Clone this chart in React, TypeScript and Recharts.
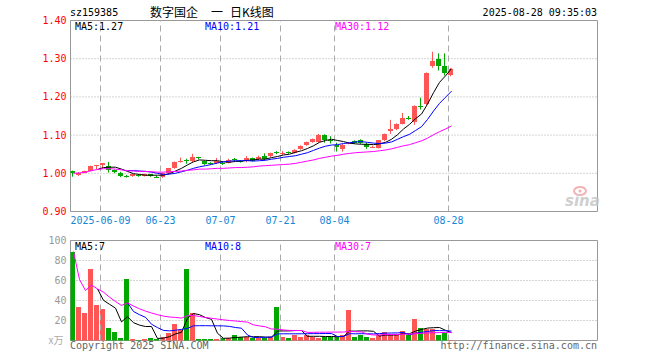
import React from "react";
import {
  Bar,
  CartesianGrid,
  ComposedChart,
  Line,
  ReferenceArea,
  ReferenceLine,
  XAxis,
  YAxis,
} from "recharts";

// daily candles, 2025-05-30 .. 2025-08-28 (64 sessions)
const OPEN = [
  1.006, 0.995, 1.002, 1.007, 1.019, 1.023, 1.02, 1.008, 1.002, 0.994,
  0.994, 0.996, 0.994, 0.997, 0.991, 0.99, 1.0, 1.014, 1.03, 1.034,
  1.031, 1.042, 1.031, 1.027, 1.026, 1.027, 1.028, 1.037, 1.032, 1.031,
  1.04, 1.037, 1.044, 1.044, 1.055, 1.05, 1.055, 1.053, 1.064, 1.074,
  1.082, 1.082, 1.101, 1.087, 1.075, 1.064, 1.078, 1.085, 1.088, 1.078,
  1.068, 1.066, 1.086, 1.11, 1.116, 1.13, 1.146, 1.133, 1.177, 1.181,
  1.281, 1.3, 1.282, 1.257,
];
const CLOSE = [
  1.0, 1.002, 1.006, 1.019, 1.021, 1.026, 1.008, 1.004, 0.994, 0.993,
  0.997, 0.995, 0.997, 0.994, 0.99, 1.001, 1.013, 1.03, 1.032, 1.032,
  1.042, 1.041, 1.024, 1.025, 1.032, 1.026, 1.036, 1.036, 1.031, 1.04,
  1.033, 1.043, 1.038, 1.052, 1.054, 1.054, 1.054, 1.061, 1.072, 1.082,
  1.089, 1.101, 1.088, 1.085, 1.068, 1.075, 1.08, 1.079, 1.079, 1.069,
  1.07, 1.086, 1.102, 1.116, 1.13, 1.146, 1.145, 1.177, 1.175, 1.262,
  1.294, 1.281, 1.262, 1.273,
];
const HIGH = [
  1.007, 1.003, 1.007, 1.02, 1.022, 1.027, 1.03, 1.01, 1.004, 0.996,
  0.999, 0.998, 0.999, 0.998, 0.993, 1.002, 1.014, 1.031, 1.041, 1.038,
  1.051, 1.043, 1.033, 1.029, 1.04, 1.029, 1.038, 1.04, 1.034, 1.045,
  1.041, 1.046, 1.052, 1.054, 1.058, 1.058, 1.057, 1.063, 1.073, 1.083,
  1.091, 1.103, 1.102, 1.097, 1.08, 1.077, 1.082, 1.086, 1.089, 1.08,
  1.072, 1.087, 1.104, 1.14, 1.131, 1.158, 1.15, 1.178, 1.198, 1.264,
  1.318, 1.314, 1.314, 1.276,
];
const LOW = [
  0.991, 0.993, 1.0, 1.005, 1.011, 1.013, 1.002, 1.0, 0.99, 0.989,
  0.991, 0.991, 0.992, 0.991, 0.988, 0.988, 0.998, 1.012, 1.028, 1.025,
  1.029, 1.036, 1.022, 1.022, 1.024, 1.022, 1.026, 1.032, 1.028, 1.029,
  1.031, 1.035, 1.035, 1.042, 1.05, 1.048, 1.051, 1.052, 1.062, 1.072,
  1.08, 1.08, 1.08, 1.078, 1.057, 1.057, 1.076, 1.077, 1.077, 1.064,
  1.067, 1.065, 1.084, 1.103, 1.113, 1.128, 1.14, 1.127, 1.167, 1.178,
  1.276, 1.269, 1.256, 1.254,
];
// volume, 万
const VOLUME = [
  89, 33, 28, 72, 36, 32, 13, 9, 3, 62,
  2, 1, 2, 3, 2, 4, 8, 16, 11, 72,
  28, 2, 2, 2, 2, 3, 3, 5, 4, 4,
  3, 3, 3, 4, 34, 4, 3, 5, 4, 5,
  4, 3, 4, 4, 4, 5, 30, 4, 5, 4,
  3, 6, 9, 5, 5, 10, 5, 22, 13, 12,
  12, 6, 8, 1,
];

const MA5 = [
  null, null, null, null, 1.01, 1.015, 1.016, 1.016, 1.011, 1.005,
  0.999, 0.997, 0.995, 0.995, 0.995, 0.995, 0.999, 1.006, 1.013, 1.022,
  1.03, 1.035, 1.034, 1.033, 1.033, 1.03, 1.029, 1.031, 1.032, 1.034,
  1.035, 1.037, 1.037, 1.041, 1.044, 1.048, 1.05, 1.055, 1.059, 1.065,
  1.072, 1.081, 1.086, 1.089, 1.086, 1.083, 1.079, 1.077, 1.076, 1.076,
  1.075, 1.077, 1.081, 1.089, 1.101, 1.116, 1.128, 1.143, 1.155, 1.181,
  1.211, 1.238, 1.255, 1.274,
];
const MA10 = [
  null, null, null, null, null, null, null, null, null, 1.007,
  1.007, 1.006, 1.005, 1.003, 1.0, 0.997, 0.998, 1.0, 1.004, 1.008,
  1.013, 1.017, 1.02, 1.023, 1.027, 1.03, 1.032, 1.033, 1.033, 1.033,
  1.032, 1.033, 1.034, 1.037, 1.039, 1.042, 1.044, 1.046, 1.05, 1.054,
  1.06, 1.066, 1.071, 1.074, 1.075, 1.078, 1.08, 1.082, 1.083, 1.081,
  1.079, 1.078, 1.079, 1.082, 1.089, 1.096, 1.102, 1.112, 1.122, 1.141,
  1.163, 1.183, 1.199, 1.215,
];
const MA30 = [
  1.0, 1.001, 1.003, 1.007, 1.01, 1.012, 1.012, 1.011, 1.009, 1.007,
  1.006, 1.005, 1.005, 1.004, 1.003, 1.003, 1.004, 1.005, 1.006, 1.008,
  1.009, 1.011, 1.011, 1.012, 1.013, 1.013, 1.014, 1.015, 1.015, 1.016,
  1.017, 1.019, 1.02, 1.021, 1.022, 1.023, 1.024, 1.026, 1.029, 1.032,
  1.035, 1.039, 1.042, 1.045, 1.047, 1.05, 1.052, 1.054, 1.055, 1.056,
  1.057, 1.059, 1.061, 1.064, 1.068, 1.072, 1.075, 1.08, 1.085, 1.092,
  1.101, 1.109, 1.116, 1.124,
];
const VMA5 = [
  null, null, null, null, 51.6, 40.2, 36.2, 32.4, 18.6, 23.8,
  17.8, 15.4, 14.0, 14.0, 2.0, 2.4, 3.8, 6.6, 8.2, 22.2,
  27.0, 25.8, 23.0, 21.2, 7.2, 2.2, 2.4, 3.0, 3.4, 3.8,
  3.8, 3.8, 3.4, 3.4, 9.4, 9.6, 9.6, 10.0, 10.0, 4.2,
  4.2, 4.2, 4.0, 4.0, 3.8, 4.0, 9.4, 9.4, 9.6, 9.6,
  9.2, 4.4, 5.4, 5.4, 5.6, 7.0, 6.8, 9.4, 11.0, 12.4,
  12.8, 13.0, 10.2, 7.8,
];
const VMA10 = [
  null, null, null, null, null, null, null, null, null, 37.7,
  29.0, 25.8, 23.2, 16.3, 12.9, 10.1, 9.6, 10.3, 11.1, 12.1,
  14.7, 14.8, 14.8, 14.7, 14.7, 14.6, 14.1, 13.0, 12.3, 5.5,
  3.0, 3.1, 3.2, 3.4, 6.6, 6.7, 6.7, 6.7, 6.7, 6.8,
  6.9, 6.9, 7.0, 7.0, 4.0, 4.1, 6.8, 6.7, 6.8, 6.7,
  6.6, 6.9, 7.4, 7.5, 7.6, 8.1, 5.6, 7.4, 8.2, 9.0,
  9.9, 9.9, 9.8, 9.4,
];
const VMA30 = [
  89, 61, 50, 55.5, 51.6, 48.3, 43.3, 39, 35, 37.7,
  34.5, 31.7, 29.4, 27.5, 25.8, 24.4, 23.5, 23.1, 22.4, 24.9,
  25.0, 24.0, 23.0, 22.2, 21.4, 20.7, 20.0, 19.5, 18.9, 18.4,
  15.6, 14.6, 13.7, 11.5, 11.4, 10.5, 10.1, 10.0, 10.0, 8.1,
  8.2, 8.3, 8.3, 8.4, 8.4, 8.5, 9.2, 8.8, 8.6, 6.3,
  5.5, 5.6, 5.9, 6.0, 6.1, 6.3, 6.4, 6.9, 7.2, 7.5,
  7.8, 7.9, 8.1, 8.0,
];

const DATE_TICKS = [5, 15, 25, 35, 44, 63];
const DATE_LABELS = ["2025-06-09", "06-23", "07-07", "07-21", "08-04", "08-28"];
const PRICE_TICKS = [0.9, 1.0, 1.1, 1.2, 1.3, 1.4];
const VOL_TICKS = [0, 20, 40, 60, 80, 100];

const X_MAX = 527 / 6; // 6px per session
const RED = "#ff5555";
const GREEN = "#00a800";
const MONO = '"DejaVu Sans Mono", "Liberation Mono", monospace';
const CJK = '"Noto Sans CJK SC", sans-serif';

const rows = OPEN.map((open, i) => ({
  x: i + 0.5,
  open,
  close: CLOSE[i],
  high: HIGH[i],
  low: LOW[i],
  vol: VOLUME[i],
  ma5: MA5[i],
  ma10: MA10[i],
  ma30: MA30[i],
  vma5: VMA5[i],
  vma10: VMA10[i],
  vma30: VMA30[i],
}));

function Candle(props: any) {
  const { x, y, width, height, payload } = props;
  if (!payload || height == null) return null;
  const { open, close, high, low } = payload;
  const color = close >= open ? RED : GREEN;
  const left = Math.round(x + width / 2 - 3.5);
  const k = high > low ? height / (high - low) : 0;
  const py = (v: number) => y + (high - v) * k;
  const top = Math.round(py(Math.max(open, close)));
  const bot = Math.round(py(Math.min(open, close)));
  return (
    <g>
      <line x1={left + 2.5} x2={left + 2.5} y1={y} y2={y + height} stroke={color} />
      <rect x={left} y={top} width={5} height={Math.max(1, bot - top)} fill={color} />
    </g>
  );
}

function VolBar(props: any) {
  const { x, y, width, height, payload } = props;
  if (!payload) return null;
  const color = payload.close >= payload.open ? RED : GREEN;
  const left = Math.round(x + width / 2 - 3.5);
  const top = Math.round(y);
  const bot = Math.round(y + height);
  return <rect x={left} y={top} width={5} height={Math.max(1, bot - top)} fill={color} />;
}

function DateTick(props: any) {
  const { x, y, payload } = props;
  const label = DATE_LABELS[DATE_TICKS.indexOf(payload.value)];
  return (
    <text x={x} y={y + 12.5} textAnchor="middle" fontFamily={MONO} fontSize={10} fill="#1586d6">
      {label}
    </text>
  );
}

function PriceTick(props: any) {
  const { x, y, payload } = props;
  return (
    <text x={x} y={y + 3.5} textAnchor="end" fontFamily={MONO} fontSize={10} fill="#ff0000">
      {Number(payload.value).toFixed(2)}
    </text>
  );
}

function VolTick(props: any) {
  const { x, y, payload } = props;
  if (payload.value === 0) {
    return (
      <text x={x - 3} y={y + 3.5} textAnchor="end" fontFamily={CJK} fontSize={10} fill="#aaa">
        x万
      </text>
    );
  }
  return (
    <text x={x} y={y + 3.5} textAnchor="end" fontFamily={MONO} fontSize={10} fill="#999">
      {payload.value}
    </text>
  );
}

function maLine(key: string, color: string) {
  return (
    <Line
      key={key}
      dataKey={key}
      type="linear"
      stroke={color}
      strokeWidth={1}
      dot={false}
      activeDot={false}
      connectNulls={false}
      isAnimationActive={false}
    />
  );
}

export default function App() {
  return (
    <div
      style={{
        position: "absolute",
        left: 0,
        top: 0,
        width: 660,
        height: 360,
        background: "#fff",
        overflow: "hidden",
      }}
    >
      {/* price panel */}
      <div style={{ position: "absolute", left: 0, top: 0 }}>
        <ComposedChart
          width={660}
          height={226}
          data={rows}
          margin={{ top: 20.5, right: 62.5, bottom: 0, left: 0.5 }}
        >
          <CartesianGrid vertical={false} stroke="#aaa" strokeDasharray="1 2" />
          {DATE_TICKS.map((p) => (
            <ReferenceLine key={p} x={p} stroke="#aaa" strokeDasharray="6 4" />
          ))}
          <XAxis
            type="number"
            dataKey="x"
            domain={[0, X_MAX]}
            ticks={DATE_TICKS}
            interval={0}
            height={14.5}
            axisLine={false}
            tickLine={false}
            tickSize={0}
            tickMargin={0}
            tick={<DateTick />}
            allowDataOverflow
          />
          <YAxis
            type="number"
            domain={[0.9, 1.4]}
            ticks={PRICE_TICKS}
            interval={0}
            width={70}
            axisLine={false}
            tickLine={false}
            tickSize={0}
            tickMargin={4}
            tick={<PriceTick />}
            allowDataOverflow
          />
          <Bar
            dataKey={(d: any) => [d.low, d.high]}
            shape={<Candle />}
            barSize={5}
            isAnimationActive={false}
          />
          {maLine("ma5", "#000000")}
          {maLine("ma10", "#0000ff")}
          {maLine("ma30", "#ff00ff")}
          <ReferenceArea x1={0} x2={X_MAX} y1={0.9} y2={1.4} fill="none" stroke="#999" />
        </ComposedChart>
      </div>

      {/* volume panel */}
      <div style={{ position: "absolute", left: 0, top: 226 }}>
        <ComposedChart
          width={660}
          height={134}
          data={rows}
          margin={{ top: 14.5, right: 62.5, bottom: 19.5, left: 0.5 }}
        >
          <CartesianGrid vertical={false} stroke="#aaa" strokeDasharray="1 2" />
          {DATE_TICKS.map((p) => (
            <ReferenceLine key={p} x={p} stroke="#aaa" strokeDasharray="6 4" />
          ))}
          <XAxis type="number" dataKey="x" domain={[0, X_MAX]} hide allowDataOverflow />
          <YAxis
            type="number"
            domain={[0, 100]}
            ticks={VOL_TICKS}
            interval={0}
            width={70}
            axisLine={false}
            tickLine={false}
            tickSize={0}
            tickMargin={4}
            tick={<VolTick />}
            allowDataOverflow
          />
          <Bar dataKey="vol" shape={<VolBar />} barSize={5} isAnimationActive={false} />
          {maLine("vma5", "#000000")}
          {maLine("vma10", "#0000ff")}
          {maLine("vma30", "#ff00ff")}
          <ReferenceArea x1={0} x2={X_MAX} y1={0} y2={100} fill="none" stroke="#999" />
        </ComposedChart>
      </div>

      {/* header, legends, footer */}
      <svg
        width={660}
        height={360}
        style={{ position: "absolute", left: 0, top: 0, pointerEvents: "none" }}
      >
        <g fontFamily={MONO} fontSize={10}>
          <text x={70} y={16} fill="#000">sz159385</text>
          <text x={597} y={16} fill="#000" textAnchor="end">2025-08-28 09:35:03</text>
          <text x={75} y={30} fill="#000">MA5:1.27</text>
          <text x={205} y={30} fill="#0000ff">MA10:1.21</text>
          <text x={335} y={30} fill="#ff00ff">MA30:1.12</text>
          <text x={75} y={250} fill="#000">MA5:7</text>
          <text x={205} y={250} fill="#0000ff">MA10:8</text>
          <text x={335} y={250} fill="#ff00ff">MA30:7</text>
          <text x={70} y={349} fill="#666">Copyright 2025 SINA.COM</text>
          <text x={597} y={349} fill="#666" textAnchor="end">http://finance.sina.com.cn</text>
        </g>
        <g fontFamily={CJK} fontSize={12} fill="#000">
          <text x={150} y={17}>数字国企</text>
          <text x={211} y={17}>一</text>
          <text x={230} y={17}>日K线图</text>
        </g>
        {/* sina watermark */}
        <g opacity={0.8}>
          <ellipse cx={580} cy={191} rx={6} ry={4} fill="none" stroke="#f2a0a0" strokeWidth={2} />
          <circle cx={580} cy={191} r={1.5} fill="#f2a0a0" />
          <text
            x={565}
            y={206}
            fontFamily='"DejaVu Sans", sans-serif'
            fontStyle="italic"
            fontWeight="bold"
            fontSize={15}
            fill="#c4c4c4"
          >
            sina
          </text>
        </g>
      </svg>
    </div>
  );
}
